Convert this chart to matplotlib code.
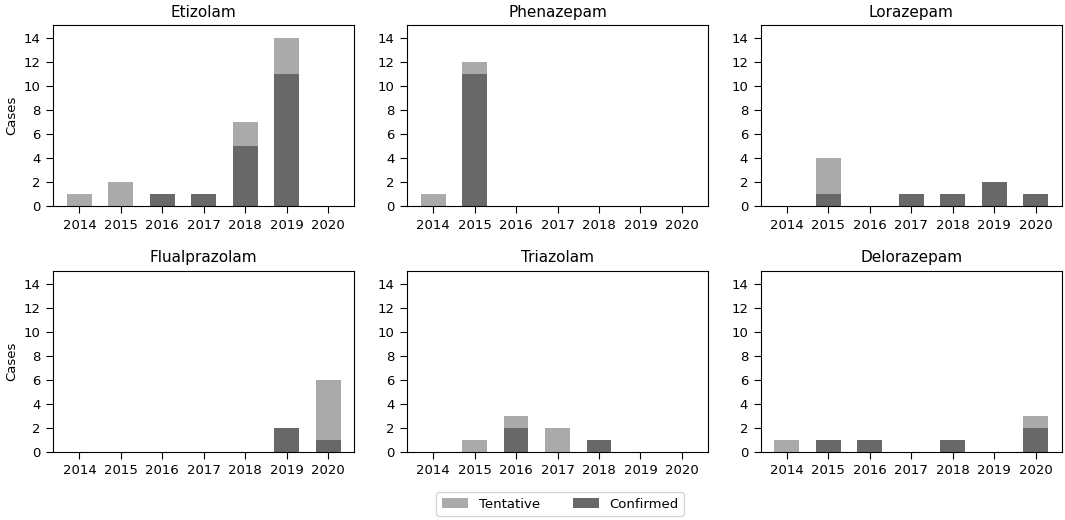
import numpy as np
import matplotlib
matplotlib.use('Agg')
import matplotlib.pyplot as plt

years = ['2014', '2015', '2016', '2017', '2018', '2019', '2020']
drugs = ['Etizolam', 'Phenazepam', 'Lorazepam', 'Flualprazolam', 'Triazolam', 'Delorazepam']

confirmed = {
    'Etizolam':      [0, 0, 1, 1, 5, 11, 0],
    'Phenazepam':    [0, 11, 0, 0, 0, 0, 0],
    'Lorazepam':     [0, 1, 0, 1, 1, 2, 1],
    'Flualprazolam': [0, 0, 0, 0, 0, 2, 1],
    'Triazolam':     [0, 0, 2, 0, 1, 0, 0],
    'Delorazepam':   [0, 1, 1, 0, 1, 0, 2],
}
tentative = {
    'Etizolam':      [1, 2, 0, 0, 2, 3, 0],
    'Phenazepam':    [1, 1, 0, 0, 0, 0, 0],
    'Lorazepam':     [0, 3, 0, 0, 0, 0, 0],
    'Flualprazolam': [0, 0, 0, 0, 0, 0, 5],
    'Triazolam':     [0, 1, 1, 2, 0, 0, 0],
    'Delorazepam':   [1, 0, 0, 0, 0, 0, 1],
}

fig, axes = plt.subplots(2, 3, figsize=(10.65, 5.2), dpi=100)
plt.subplots_adjust(left=0.05, right=0.997, top=0.952, bottom=0.131,
                    wspace=0.175, hspace=0.355)

x = np.arange(len(years))
for ax, drug in zip(axes.flat, drugs):
    c = np.array(confirmed[drug])
    t = np.array(tentative[drug])
    ax.bar(x, t, width=0.6, bottom=c, color='#aaaaaa', label='Tentative')
    ax.bar(x, c, width=0.6, color='#686868', label='Confirmed')
    ax.set_title(drug, fontsize=11)
    ax.set_xticks(x)
    ax.set_xticklabels(years)
    ax.set_yticks(range(0, 15, 2))
    ax.tick_params(labelsize=9.5, length=5, pad=4)
    ax.set_ylim(0, 15.1)

axes[0, 0].set_ylabel('Cases', fontsize=9.5)
axes[1, 0].set_ylabel('Cases', fontsize=9.5)

handles, labels = axes[0, 0].get_legend_handles_labels()
fig.legend(handles, labels, loc='lower center', ncol=2, fontsize=9.5,
           bbox_to_anchor=(0.526, -0.005), columnspacing=2.5)

plt.savefig('out.png')
